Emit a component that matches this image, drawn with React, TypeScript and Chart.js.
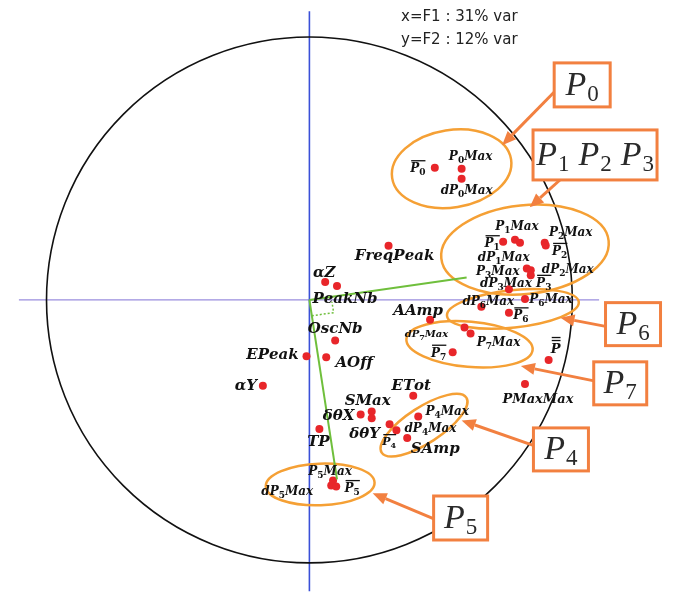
import React, { useEffect, useRef } from "react";
import { Chart, registerables } from "chart.js";

Chart.register(...registerables);

// ---- Data: variable loadings on F1 (x) and F2 (y) ----
const varNames = [
  "P0bar", "P0Max", "dP0Max",
  "P1bar", "P1Max", "dP1Max", "P2Max", "P2bar", "P3Max", "dP2Max", "P3bar", "dP3Max",
  "P6Max", "dP6Max", "P6bar", "AAmp",
  "dP7Max", "P7Max", "P7bar", "Pbarbar", "PMaxMax",
  "ETot", "P4Max", "dthY", "dP4Max", "P4bar", "SMax", "SAmp", "dthX", "TP",
  "P5Max", "dP5Max", "P5bar",
  "FreqPeak", "alphaZ", "PeakNb", "OscNb", "EPeak", "AOff", "alphaY",
];
const loadF1 = [
  0.477, 0.579, 0.579,
  0.737, 0.782, 0.801, 0.895, 0.899, 0.827, 0.842, 0.842, 0.759,
  0.820, 0.654, 0.759, 0.459,
  0.590, 0.613, 0.545, 0.910, 0.820,
  0.395, 0.414, 0.305, 0.331, 0.372, 0.237, 0.237, 0.195, 0.038,
  0.090, 0.083, 0.102,
  0.301, 0.060, 0.105, 0.098, -0.011, 0.064, -0.177,
];
const loadF2 = [
  0.504, 0.500, 0.462,
  0.222, 0.229, 0.218, 0.218, 0.208, 0.120, 0.113, 0.094, 0.041,
  0.004, -0.026, -0.049, -0.075,
  -0.105, -0.128, -0.199, -0.229, -0.320,
  -0.365, -0.444, -0.474, -0.496, -0.526, -0.425, -0.451, -0.436, -0.492,
  -0.688, -0.707, -0.711,
  0.207, 0.068, 0.053, -0.154, -0.214, -0.218, -0.327,
];

// Directions of the two green vectors (F1, F2)
const vecF1 = [0.598, 0.086];
const vecF2 = [0.105, -0.684];

const varianceText = ["x=F1 : 31% var", "y=F2 : 12% var"];

// ---- Layout / styles ----
const X_MIN = -1.1617, X_MAX = 1.4173, Y_MIN = -1.109, Y_MAX = 1.1278;

// Labels: text ("_" = subscript next char), anchor variable, pixel offset, font size, overline count
const labels: [string, string, number, number, number, number][] = [
  ["P_0", "P0bar", -17, 0, 12, 1],
  ["P_0Max", "P0Max", 9, -13, 12, 0],
  ["dP_0Max", "dP0Max", 5, 11, 12, 0],
  ["P_1Max", "P1Max", 2, -14, 12, 0],
  ["P_1", "P1bar", -11, 1, 12, 1],
  ["P_2Max", "P2Max", 26, -11, 12, 0],
  ["P_2", "P2bar", 14, 5, 12, 1],
  ["dP_1Max", "P3Max", -23, -12, 12, 0],
  ["dP_2Max", "dP2Max", 37, -2, 12, 0],
  ["P_3Max", "P3Max", -29, 2, 12, 0],
  ["P_3", "P3bar", 13, 7, 12, 1],
  ["dP_3Max", "dP3Max", -3, -7, 12, 0],
  ["dP_6Max", "dP6Max", 7, -6, 12, 0],
  ["P_6Max", "P6Max", 26, 0, 12, 0],
  ["P_6", "P6bar", 12, 2, 12, 1],
  ["AAmp", "AAmp", -12, -10, 15, 0],
  ["dP_7Max", "dP7Max", -38, 6, 10, 0],
  ["P_7Max", "P7Max", 28, 8, 12, 0],
  ["P_7", "P7bar", -14, 0, 12, 1],
  ["P", "Pbarbar", 7, -12, 13, 2],
  ["PMaxMax", "PMaxMax", 13, 14, 13, 0],
  ["ETot", "ETot", -2, -11, 15, 0],
  ["P_4Max", "P4Max", 29, -6, 12, 0],
  ["dP_4Max", "dP4Max", 34, -2, 12, 0],
  ["P_4", "P4bar", -18, 3, 11, 1],
  ["SAmp", "P4bar", 28, 10, 15, 0],
  ["SMax", "SMax", -4, -12, 15, 0],
  ["δθX", "dthX", -22, 0, 15, 0],
  ["δθY", "dthY", -25, 8, 15, 0],
  ["TP", "TP", -1, 12, 15, 0],
  ["P_5Max", "P5Max", -3, -10, 12, 0],
  ["dP_5Max", "dP5Max", -44, 5, 12, 0],
  ["P_5", "P5bar", 16, 1, 12, 1],
  ["FreqPeak", "FreqPeak", 6, 9, 15, 0],
  ["αZ", "alphaZ", -1, -11, 15, 0],
  ["PeakNb", "PeakNb", 8, 12, 15, 0],
  ["OscNb", "OscNb", 0, -13, 15, 0],
  ["EPeak", "EPeak", -34, -3, 15, 0],
  ["AOff", "AOff", 28, 4, 15, 0],
  ["αY", "alphaY", -17, -1, 15, 0],
];

// Group ellipses: centre (data units), radii (data units), rotation (deg)
const ellipses: [number, number, number, number, number][] = [
  [0.541, 0.500, 0.229, 0.147, -9],
  [0.820, 0.192, 0.320, 0.169, -6],
  [0.774, -0.034, 0.252, 0.071, -6],
  [0.609, -0.169, 0.241, 0.086, 5],
  [0.436, -0.477, 0.192, 0.068, -33],
  [0.041, -0.703, 0.207, 0.079, -2],
];

// Callouts: subscripts, box centre (data units), box w/h (px), arrow start and tip (data units)
const callouts: [string[], number, number, number, number, number, number, number, number][] = [
  [["0"], 1.0376, 0.8195, 56, 44, 0.936, 0.797, 0.733, 0.590],
  [["1", "2", "3"], 1.0865, 0.5526, 124, 50, 0.955, 0.459, 0.838, 0.353],
  [["6"], 1.231, -0.0921, 55, 43, 1.1316, -0.1015, 0.955, -0.0677],
  [["7"], 1.1823, -0.3177, 53, 43, 1.0827, -0.3083, 0.8045, -0.2519],
  [["4"], 0.9568, -0.5695, 55, 43, 0.857, -0.556, 0.579, -0.459],
  [["5"], 0.5752, -0.8308, 54, 44, 0.4737, -0.8346, 0.2406, -0.7368],
];

const RED = "#e8262a";
const GREEN = "#6fbf3c";
const ELL = "#f5a035";
const BOX = "#f28040";

function drawMath(ctx: CanvasRenderingContext2D, text: string, cx: number, cy: number, size: number, bars: number) {
  const segs: { ch: string; sub: boolean }[] = [];
  for (let i = 0; i < text.length; i++) {
    let ch = text[i];
    let sub = false;
    if (ch === "_") { sub = true; ch = text[++i]; }
    segs.push({ ch, sub });
  }
  const mainFont = `italic bold ${size}px "DejaVu Serif"`;
  const subSize = Math.round(size * 0.76);
  const subFont = `bold ${subSize}px "DejaVu Serif"`;
  let total = 0;
  const widths = segs.map((s) => {
    ctx.font = s.sub ? subFont : mainFont;
    const w = ctx.measureText(s.ch).width;
    total += w;
    return w;
  });
  let x = cx - total / 2;
  const base = cy + size * 0.36;
  ctx.fillStyle = "#111";
  ctx.textBaseline = "alphabetic";
  ctx.textAlign = "left";
  segs.forEach((s, i) => {
    ctx.font = s.sub ? subFont : mainFont;
    ctx.fillText(s.ch, x, s.sub ? base + size * 0.25 : base);
    x += widths[i];
  });
  if (bars > 0) {
    ctx.strokeStyle = "#111";
    ctx.lineWidth = 1.3;
    for (let k = 0; k < bars; k++) {
      const y = cy - size * 0.58 - k * 3;
      ctx.beginPath();
      ctx.moveTo(cx - total / 2 + 1, y);
      ctx.lineTo(cx + total / 2, y);
      ctx.stroke();
    }
  }
}

const decorPlugin = {
  id: "decor",
  beforeDatasetsDraw(chart: any) {
    const ctx: CanvasRenderingContext2D = chart.ctx;
    const xs = chart.scales.x, ys = chart.scales.y;
    const X = (v: number) => xs.getPixelForValue(v);
    const Y = (v: number) => ys.getPixelForValue(v);
    const unit = X(1) - X(0);
    ctx.save();
    // axes
    ctx.lineWidth = 1.3;
    ctx.strokeStyle = "#9a8ede";
    ctx.beginPath();
    ctx.moveTo(X(-1.105), Y(0));
    ctx.lineTo(X(1.102), Y(0));
    ctx.stroke();
    ctx.strokeStyle = "#3a50d8";
    ctx.lineWidth = 1.6;
    ctx.beginPath();
    ctx.moveTo(X(0), Y(1.1));
    ctx.lineTo(X(0), Y(-1.11));
    ctx.stroke();
    // unit circle
    ctx.strokeStyle = "#111";
    ctx.lineWidth = 1.6;
    ctx.beginPath();
    ctx.arc(X(0), Y(0), unit, 0, Math.PI * 2);
    ctx.stroke();
    // right-angle marker between the two green vectors
    const u1x = X(vecF1[0]) - X(0), u1y = Y(vecF1[1]) - Y(0);
    const u2x = X(vecF2[0]) - X(0), u2y = Y(vecF2[1]) - Y(0);
    const l1 = Math.hypot(u1x, u1y), l2 = Math.hypot(u2x, u2y);
    const a = 22, b = 16;
    const p1x = X(0) + (u2x / l2) * b, p1y = Y(0) + (u2y / l2) * b;
    const cxp = p1x + (u1x / l1) * a, cyp = p1y + (u1y / l1) * a;
    const p2x = X(0) + (u1x / l1) * a + (u2x / l2) * 5, p2y = Y(0) + (u1y / l1) * a + (u2y / l2) * 5;
    ctx.setLineDash([2, 2]);
    ctx.strokeStyle = GREEN;
    ctx.lineWidth = 1.5;
    ctx.beginPath();
    ctx.moveTo(p1x, p1y);
    ctx.lineTo(cxp, cyp);
    ctx.lineTo(p2x, p2y);
    ctx.stroke();
    ctx.setLineDash([]);
    // group ellipses
    ctx.strokeStyle = ELL;
    ctx.lineWidth = 2.5;
    ellipses.forEach(([ex, ey, rx, ry, rot]) => {
      ctx.beginPath();
      ctx.ellipse(X(ex), Y(ey), rx * unit, ry * unit, (rot * Math.PI) / 180, 0, Math.PI * 2);
      ctx.stroke();
    });
    ctx.restore();
  },
  afterDatasetsDraw(chart: any) {
    const ctx: CanvasRenderingContext2D = chart.ctx;
    const xs = chart.scales.x, ys = chart.scales.y;
    const X = (v: number) => xs.getPixelForValue(v);
    const Y = (v: number) => ys.getPixelForValue(v);
    ctx.save();
    // labels
    labels.forEach(([text, anchor, dx, dy, size, bars]) => {
      const i = varNames.indexOf(anchor);
      drawMath(ctx, text, X(loadF1[i]) + dx, Y(loadF2[i]) + dy, size, bars);
    });
    // callouts
    callouts.forEach(([subs, bx, by, w, h, sx, sy, tx, ty]) => {
      const x0 = X(sx), y0 = Y(sy), x1 = X(tx), y1 = Y(ty);
      const ang = Math.atan2(y1 - y0, x1 - x0);
      const hl = 14, hw = 6;
      const bxp = x1 - Math.cos(ang) * hl, byp = y1 - Math.sin(ang) * hl;
      ctx.strokeStyle = BOX;
      ctx.fillStyle = BOX;
      ctx.lineWidth = 3;
      ctx.beginPath();
      ctx.moveTo(x0, y0);
      ctx.lineTo(bxp, byp);
      ctx.stroke();
      ctx.beginPath();
      ctx.moveTo(x1, y1);
      ctx.lineTo(bxp + Math.sin(ang) * hw, byp - Math.cos(ang) * hw);
      ctx.lineTo(bxp - Math.sin(ang) * hw, byp + Math.cos(ang) * hw);
      ctx.closePath();
      ctx.fill();
      const cx = X(bx), cy = Y(by);
      ctx.fillStyle = "#fff";
      ctx.fillRect(cx - w / 2, cy - h / 2, w, h);
      ctx.strokeRect(cx - w / 2, cy - h / 2, w, h);
      // text P_n
      const pFont = `italic 34px "Liberation Serif"`;
      const sFont = `23px "Liberation Serif"`;
      ctx.font = pFont;
      const pw = ctx.measureText("P").width;
      ctx.font = sFont;
      const sw = ctx.measureText("0").width;
      const gap = 9;
      const total = subs.length * (pw + sw + 1) + (subs.length - 1) * gap;
      let x = cx - total / 2;
      const base = cy + 10;
      ctx.fillStyle = "#2a2a2a";
      ctx.textAlign = "left";
      ctx.textBaseline = "alphabetic";
      subs.forEach((s) => {
        ctx.font = pFont;
        ctx.fillText("P", x, base);
        x += pw + 1;
        ctx.font = sFont;
        ctx.fillText(s, x, base + 6);
        x += sw + gap;
      });
    });
    // variance text
    ctx.font = `15px "DejaVu Sans"`;
    ctx.fillStyle = "#222";
    ctx.textAlign = "left";
    ctx.textBaseline = "alphabetic";
    ctx.fillText(varianceText[0], 401, 21);
    ctx.fillText(varianceText[1], 401, 44);
    ctx.restore();
  },
};

export default function App() {
  const ref = useRef<HTMLCanvasElement | null>(null);
  useEffect(() => {
    if (!ref.current) return;
    const points = loadF1.map((v, i) => ({ x: v, y: loadF2[i] }));
    const chart = new Chart(ref.current, {
      type: "scatter",
      data: {
        datasets: [
          {
            type: "line",
            data: [{ x: 0, y: 0 }, { x: vecF1[0], y: vecF1[1] }],
            borderColor: GREEN,
            borderWidth: 2,
            pointRadius: 0,
            showLine: true,
          } as any,
          {
            type: "line",
            data: [{ x: 0, y: 0 }, { x: vecF2[0], y: vecF2[1] }],
            borderColor: GREEN,
            borderWidth: 2,
            pointRadius: 0,
            showLine: true,
          } as any,
          {
            data: points,
            backgroundColor: RED,
            borderWidth: 0,
            pointRadius: 4,
          },
        ],
      },
      options: {
        animation: false,
        responsive: true,
        maintainAspectRatio: false,
        events: [],
        layout: { padding: 0 },
        plugins: { legend: { display: false }, tooltip: { enabled: false } },
        scales: {
          x: { type: "linear", min: X_MIN, max: X_MAX, display: false },
          y: { type: "linear", min: Y_MIN, max: Y_MAX, display: false },
        },
      },
      plugins: [decorPlugin],
    });
    return () => chart.destroy();
  }, []);
  return (
    <div style={{ position: "absolute", left: 0, top: 0, width: 686, height: 595, background: "#fff" }}>
      <canvas ref={ref} />
    </div>
  );
}
